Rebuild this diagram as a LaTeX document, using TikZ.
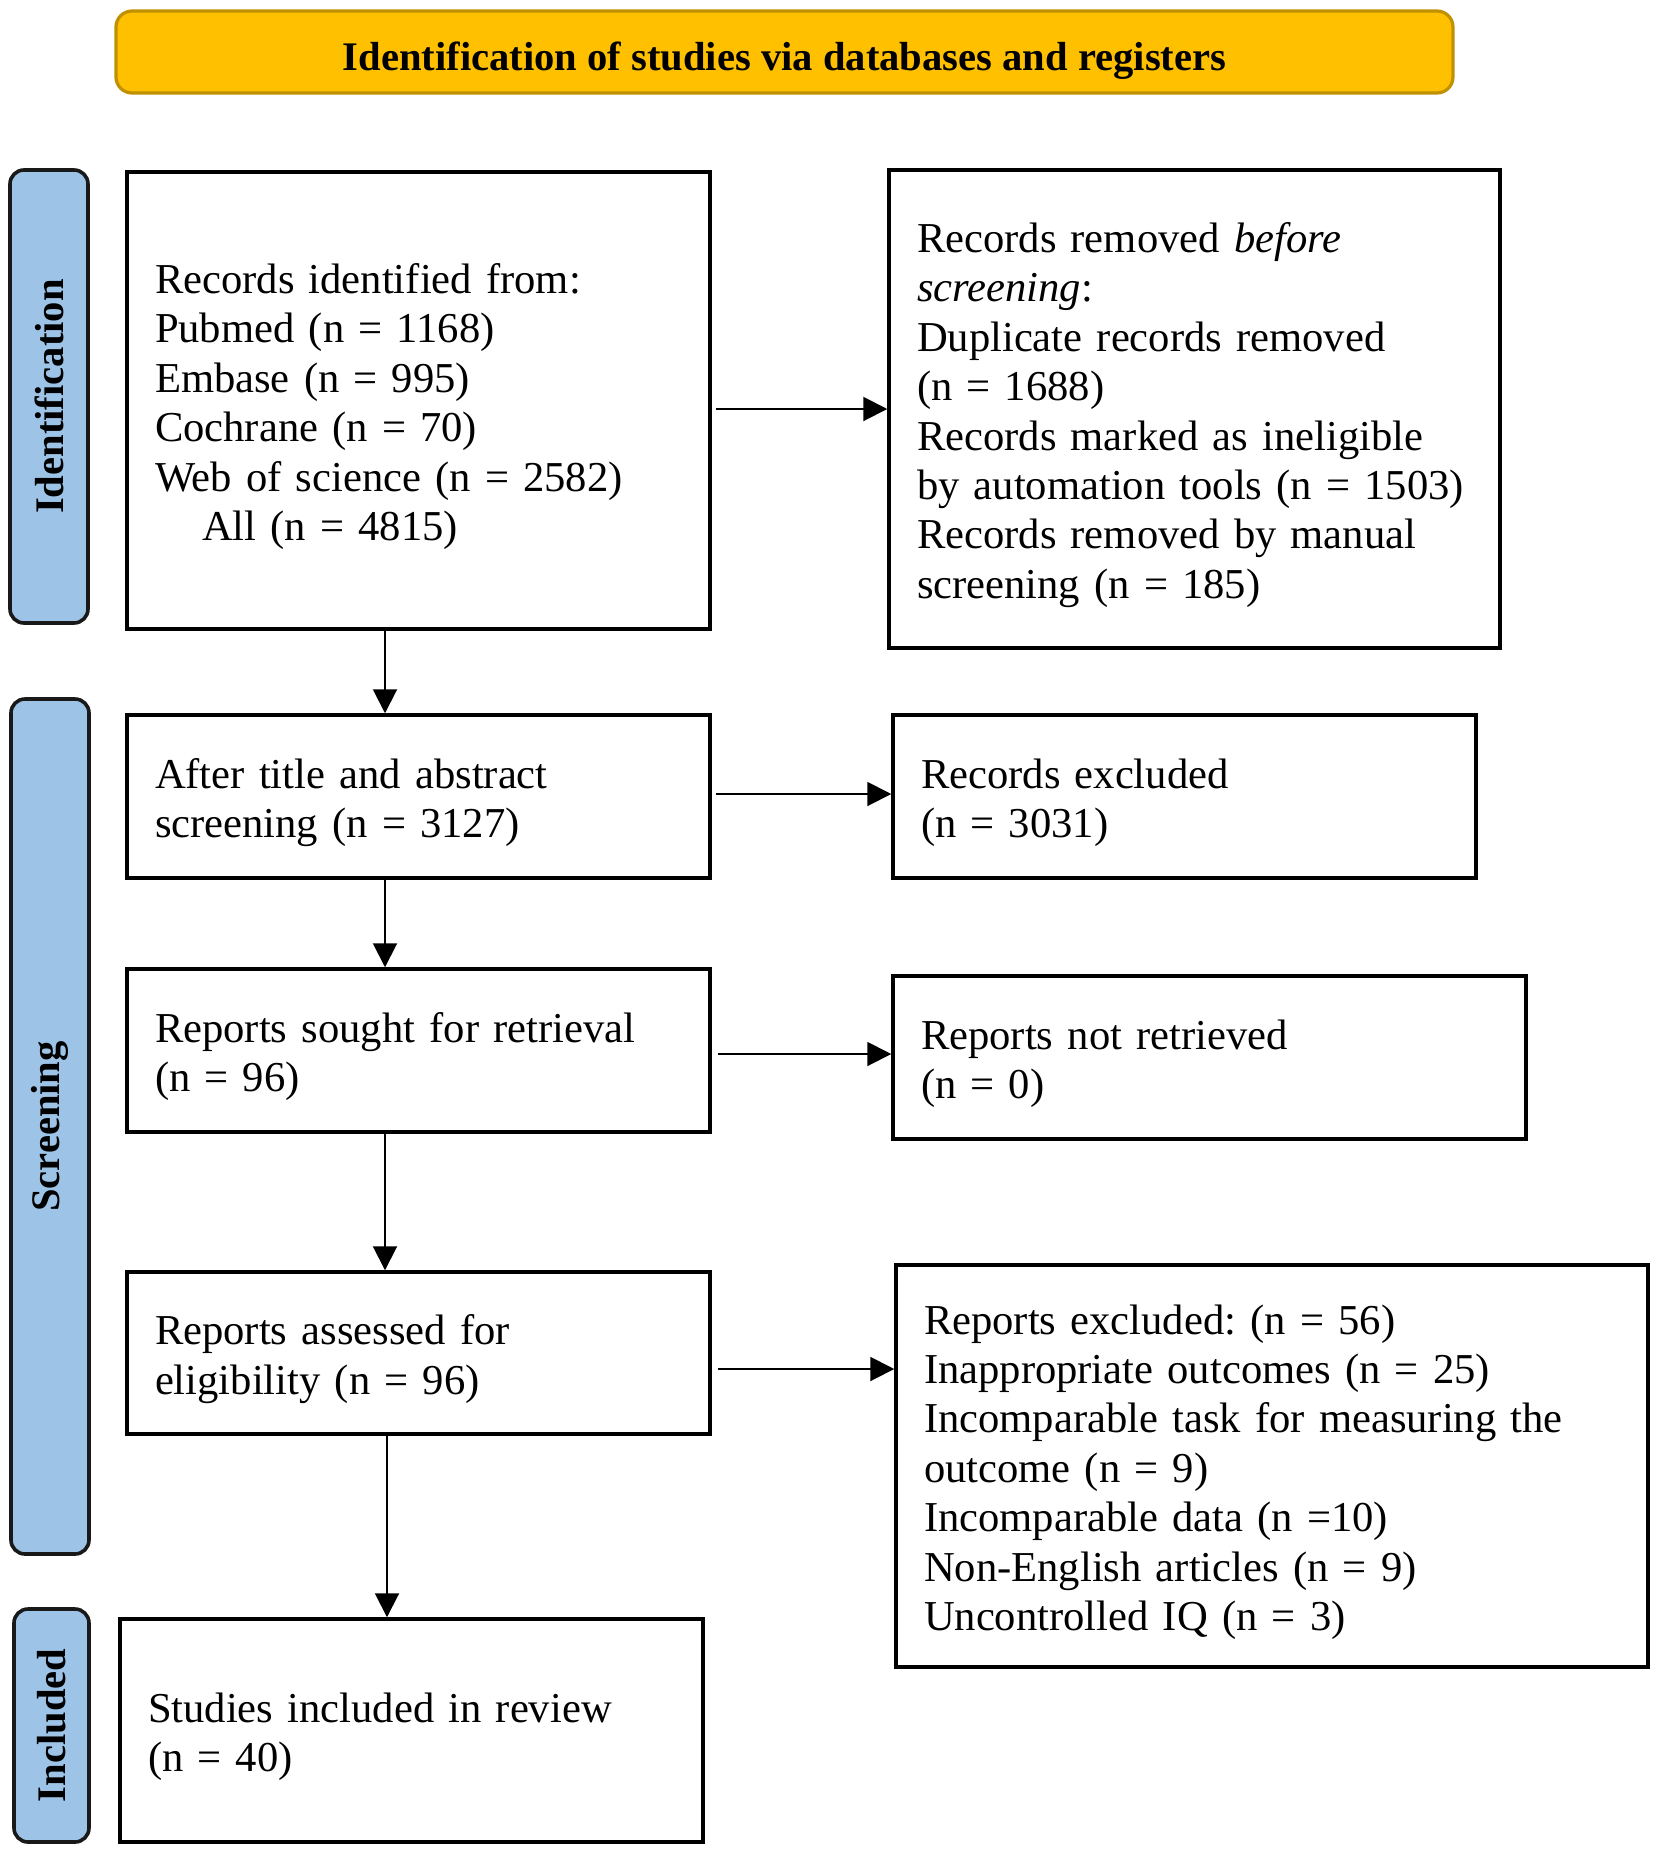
\documentclass[tikz,border=0pt]{standalone}
\usepackage{fontspec}
\setmainfont{Liberation Serif}
\usetikzlibrary{arrows.meta}
\definecolor{titlefill}{HTML}{FFC000}
\definecolor{titledraw}{HTML}{BF9000}
\definecolor{barfill}{HTML}{9DC3E6}
\frenchspacing
\newcommand{\boxtail}{\endgraf\vspace*{-6pt}}
\begin{document}
\begin{tikzpicture}[x=0.5pt,y=-0.5pt,
  box/.style={draw=black, line width=1.75pt, align=left, inner xsep=14pt, inner ysep=0pt,
    font=\fontsize{21.3pt}{24.7pt}\selectfont, execute at end node={\boxtail}},
  sidebar/.style={draw=black!90, line width=1.8pt, fill=barfill, rounded corners=7pt,
    inner sep=0pt},
  sidelabel/.style={rotate=90, inner sep=0pt, font=\fontsize{20.3pt}{24pt}\selectfont\bfseries},
  titlebox/.style={draw=titledraw, line width=1.6pt, fill=titlefill, rounded corners=8pt,
    inner sep=0pt},
  titletext/.style={inner sep=0pt, font=\fontsize{20.3pt}{24pt}\selectfont\bfseries},
  arr/.style={line width=1pt, -{Triangle[length=12pt,width=12pt]}}
]
\useasboundingbox (0,0) rectangle (1654,1853);

% title
\node[titlebox, minimum width=668.5pt, minimum height=41pt] (title) at (784.5,52) {};
\node[titletext, anchor=base] (titlelabel) at ([yshift=-9.3pt]title.center)
  {Identification of studies via databases and registers};

% side bars
\node[sidebar, minimum width=39pt, minimum height=226.5pt] (sid) at (49,396.5) {};
\node[sidelabel] (lid) at (sid.center) {Identification};
\node[sidebar, minimum width=39pt, minimum height=427.5pt] (sscr) at (50,1126.5) {};
\node[sidelabel] (lscr) at (sscr.center) {Screening};
\node[sidebar, minimum width=37.5pt, minimum height=116.5pt] (sinc) at (51.5,1725.5) {};
\node[sidelabel] (linc) at (sinc.center) {Included};

% boxes
\node[box, minimum width=291.5pt, minimum height=228.5pt, text width=263.5pt] (b1) at (418.5,400.5)
  {Records identified from:\\
   Pubmed (n = 1168)\\
   Embase (n = 995)\\
   Cochrane (n = 70)\\
   Web of science (n = 2582)\\
   \hspace*{23.5pt}All (n = 4815)};

\node[box, minimum width=305.5pt, minimum height=239pt, text width=277.5pt] (b2) at (1194.5,409)
  {Records removed \textit{before}\\
   \textit{screening}:\\
   Duplicate records removed\\
   (n = 1688)\\
   Records marked as ineligible\\
   by automation tools (n = 1503)\\
   Records removed by manual\\
   screening (n = 185)};

\node[box, minimum width=291.5pt, minimum height=81.5pt, text width=263.5pt] (b3) at (418.5,796.5)
  {After title and abstract\\ screening (n = 3127)};

\node[box, minimum width=291.5pt, minimum height=81.5pt, text width=263.5pt] (b4) at (1184.5,796.5)
  {Records excluded\\ (n = 3031)};

\node[box, minimum width=291.5pt, minimum height=81.5pt, text width=263.5pt] (b5) at (418.5,1050.5)
  {Reports sought for retrieval\\ (n = 96)};

\node[box, minimum width=316.5pt, minimum height=81.5pt, text width=288.5pt] (b6) at (1209.5,1057.5)
  {Reports not retrieved\\ (n = 0)};

\node[box, minimum width=291.5pt, minimum height=81pt, text width=263.5pt] (b7) at (418.5,1353)
  {Reports assessed for\\ eligibility (n = 96)};

\node[box, minimum width=376pt, minimum height=201pt, text width=348pt] (b8) at (1272,1466)
  {Reports excluded: (n = 56)\\
   Inappropriate outcomes (n = 25)\\
   Incomparable task for measuring the\\
   outcome (n = 9)\\
   Incomparable data (n =10)\\
   Non-English articles (n = 9)\\
   Uncontrolled IQ (n = 3)};

\node[box, minimum width=291.5pt, minimum height=111.5pt, text width=263.5pt] (b9) at (411.5,1730.5)
  {Studies included in review\\ (n = 40)};

% connector guide coordinates
\coordinate (vx) at (385,0);
\coordinate (vx2) at (387,0);
\coordinate (h1) at (0,409);
\coordinate (h2) at (0,794);
\coordinate (h3) at (0,1054);
\coordinate (h4) at (0,1369);

% vertical arrows
\draw[arr] (b1.south -| vx) -- (b3.north -| vx);
\draw[arr] (b3.south -| vx) -- (b5.north -| vx);
\draw[arr] (b5.south -| vx) -- (b7.north -| vx);
\draw[arr] (b7.south -| vx2) -- (b9.north -| vx2);

% horizontal arrows
\draw[arr, shorten <=2pt] (b1.east |- h1) -- (b2.west |- h1);
\draw[arr, shorten <=2pt] (b3.east |- h2) -- (b4.west |- h2);
\draw[arr, shorten <=3pt] (b5.east |- h3) -- (b6.west |- h3);
\draw[arr, shorten <=3pt] (b7.east |- h4) -- (b8.west |- h4);
\end{tikzpicture}
\end{document}
